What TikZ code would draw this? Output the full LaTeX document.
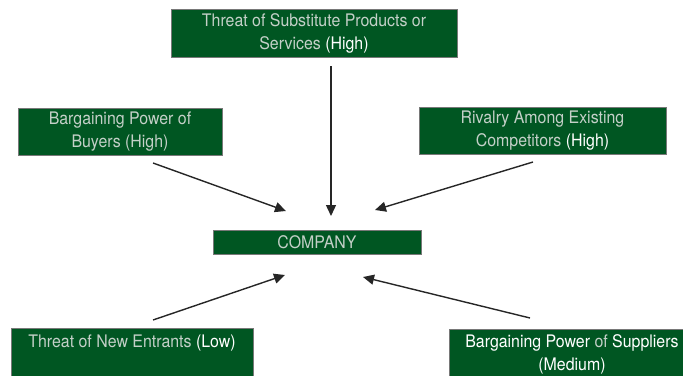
\documentclass[tikz,border=0pt]{standalone}
\usepackage{fontspec}
\setmainfont{TeX Gyre Heros}[FakeStretch=0.92]
\usetikzlibrary{arrows.meta}
\definecolor{boxgreen}{RGB}{0,86,34}
\definecolor{boxline}{RGB}{120,120,120}
\definecolor{txtgrey}{RGB}{196,208,200}
\begin{document}
\begin{tikzpicture}[x=1pt,y=-1pt,
  forcebox/.style={draw=boxline, line width=1pt, fill=boxgreen, text=txtgrey,
    align=center, inner sep=0pt, font=\fontsize{17.3}{23}\selectfont},
  forcearrow/.style={draw=black!85, line width=1.4pt,
    -{Triangle[length=11pt,width=10pt]}}]
\useasboundingbox (0,0) rectangle (683,375);
\clip (0,0) rectangle (683,375);
\newcommand{\wht}[1]{\textcolor{white}{#1}}
\node[forcebox, minimum width=286pt, minimum height=48pt] (subst) at (314,33)
  {Threat of Substitute Products or\\Services \wht{(High)}};
\node[forcebox, minimum width=204pt, minimum height=47pt] (buyers) at (120,131.5)
  {Bargaining Power of\\Buyers (High)};
\node[forcebox, minimum width=247pt, minimum height=47pt] (rivalry) at (542.5,130.5)
  {Rivalry Among Existing\\Competitors \wht{(High)}};
\node[forcebox, minimum width=208pt, minimum height=24pt] (company) at (317,242)
  {COMPANY};
\node[forcebox, minimum width=242pt, minimum height=50pt] (entrants) at (132,353)
  {Threat of New Entrants \wht{(Low)}\\\mbox{}};
\node[forcebox, minimum width=246pt, minimum height=50pt] (suppliers) at (572,354)
  {\wht{Bargaining Power} of \wht{Suppliers}\\\wht{(Medium)}};
\coordinate (s1) at (331,66);   \coordinate (s2) at (331,216);
\coordinate (b1) at (153,163);  \coordinate (b2) at (286,211);
\coordinate (r1) at (533,162);  \coordinate (r2) at (375,210);
\coordinate (e1) at (153,320);  \coordinate (e2) at (285,275);
\coordinate (p1) at (530,318);  \coordinate (p2) at (363,277);
\draw[forcearrow] (s1) -- (s2);
\draw[forcearrow] (b1) -- (b2);
\draw[forcearrow] (r1) -- (r2);
\draw[forcearrow] (e1) -- (e2);
\draw[forcearrow] (p1) -- (p2);
\end{tikzpicture}
\end{document}
